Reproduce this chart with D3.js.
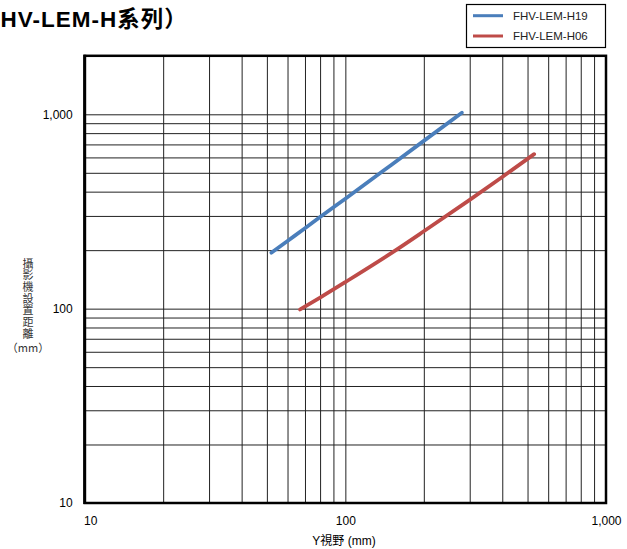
<!DOCTYPE html>
<html><head><meta charset="utf-8">
<script src="https://cdn.jsdelivr.net/npm/d3@7"></script>
<style>
body{margin:0;background:#fff;}
text{font-family:"Liberation Sans",Arial,"Noto Sans CJK TC",sans-serif;}
</style></head>
<body>
<svg id="chart" width="627" height="549"></svg>
<script>
// ---- data ----
const seriesNames = ["FHV-LEM-H19", "FHV-LEM-H06"];
const seriesColors = ["#4A7EBB", "#BE4B48"];
const h19X = [52, 60, 70, 80, 100, 150, 200, 280];
const h19Y = [194, 223, 259, 296, 368, 549, 730, 1020];
const h06X = [67, 80, 100, 150, 200, 300, 400, 530];
const h06Y = [99, 114, 137, 193, 250, 363, 476, 624];
const xTickLabels = [10, 100, 1000];
const yTickLabels = [10, 100, 1000];
const xGrid = [20,30,40,50,60,70,80,90,100,200,300,400,500,600,700,800,900];
const yGrid = [20,30,40,50,60,70,80,90,100,200,300,400,500,600,700,800,900,1000];
const xTitle = "Y視野 (mm)";
const yTitle = "攝影機設置距離";
const yUnit = "（mm）";
const chartTitle = "HV-LEM-H系列）";

// ---- layout ----
const svg = d3.select("#chart");
const L = 84.7, R = 606, T = 55.8, B = 503;
const x = d3.scaleLog().domain([10, 1000]).range([L, R]);
const y = d3.scaleLog().domain([10, 2000]).range([B, T]);
const fmt = d3.format(",");

// title (visible part, starting at the page edge as in the reference)
svg.append("text").attr("x", 0.5).attr("y", 27).attr("font-size", 22.5)
  .attr("font-weight", "bold").attr("letter-spacing", 1).attr("fill", "#000")
  .text(chartTitle);

// grid
svg.append("g").attr("transform", `translate(${L},0)`)
  .call(d3.axisLeft(y).tickValues(yGrid).tickSize(-(R - L)).tickFormat(""))
  .call(g => g.select(".domain").remove())
  .call(g => g.selectAll("line").attr("stroke", "#222").attr("stroke-width", 1));
svg.append("g").attr("transform", `translate(0,${B})`)
  .call(d3.axisBottom(x).tickValues(xGrid).tickSize(-(B - T)).tickFormat(""))
  .call(g => g.select(".domain").remove())
  .call(g => g.selectAll("line").attr("stroke", "#222").attr("stroke-width", 1));

// tick labels
svg.append("g").attr("transform", `translate(${L},0)`)
  .call(d3.axisLeft(y).tickValues(yTickLabels).tickSize(0).tickPadding(12).tickFormat(fmt))
  .call(g => g.select(".domain").remove())
  .call(g => g.selectAll("text").attr("font-size", 12).attr("fill", "#000"));
svg.append("g").attr("transform", `translate(0,${B})`)
  .call(d3.axisBottom(x).tickValues(xTickLabels).tickSize(0).tickPadding(13).tickFormat(fmt))
  .call(g => g.select(".domain").remove())
  .call(g => g.selectAll("text").attr("font-size", 12).attr("fill", "#000")
    .attr("dx", (d, i) => i === 0 ? 5.5 : 0));

// frame
svg.append("rect").attr("x", L).attr("y", T).attr("width", R - L).attr("height", B - T)
  .attr("fill", "none").attr("stroke", "#000").attr("stroke-width", 2.5);
svg.append("line").attr("x1", L).attr("x2", L).attr("y1", T - 1).attr("y2", B + 1)
  .attr("stroke", "#000").attr("stroke-width", 3);

// series
const series = [
  h19X.map((v, i) => [v, h19Y[i]]),
  h06X.map((v, i) => [v, h06Y[i]])
];
const line = d3.line().x(d => x(d[0])).y(d => y(d[1])).curve(d3.curveMonotoneX);
series.forEach((s, i) => {
  svg.append("path").datum(s).attr("d", line).attr("fill", "none")
    .attr("stroke", seriesColors[i]).attr("stroke-width", 3.75).attr("stroke-linecap", "round");
});

// axis titles
svg.append("text").attr("x", 344).attr("y", 545).attr("text-anchor", "middle")
  .attr("font-size", 12).attr("fill", "#000").text(xTitle);
svg.append("text").attr("x", 28).attr("y", 258)
  .style("writing-mode", "vertical-rl").style("text-orientation", "upright")
  .style("font-family", "'Noto Sans CJK TC','Noto Sans CJK SC',sans-serif")
  .style("font-size", "11px").style("letter-spacing", "0.7px")
  .attr("fill", "#333").text(yTitle);
svg.append("text").attr("x", 28).attr("y", 352).attr("text-anchor", "middle")
  .style("font-family", "'Noto Sans CJK TC','Noto Sans CJK SC',sans-serif")
  .style("font-size", "11px").attr("fill", "#333").text(yUnit);

// legend
const lg = svg.append("g");
lg.append("rect").attr("x", 466.5).attr("y", 4.5).attr("width", 139).attr("height", 43)
  .attr("fill", "#fff").attr("stroke", "#000").attr("stroke-width", 1.2);
seriesNames.forEach((n, i) => {
  const cy = 15.7 + i * 20.3;
  lg.append("line").attr("x1", 473).attr("x2", 503).attr("y1", cy).attr("y2", cy)
    .attr("stroke", seriesColors[i]).attr("stroke-width", 3);
  lg.append("text").attr("x", 513).attr("y", cy + 4.2).attr("font-size", 11.5)
    .attr("fill", "#222").text(n);
});
</script>
</body></html>
